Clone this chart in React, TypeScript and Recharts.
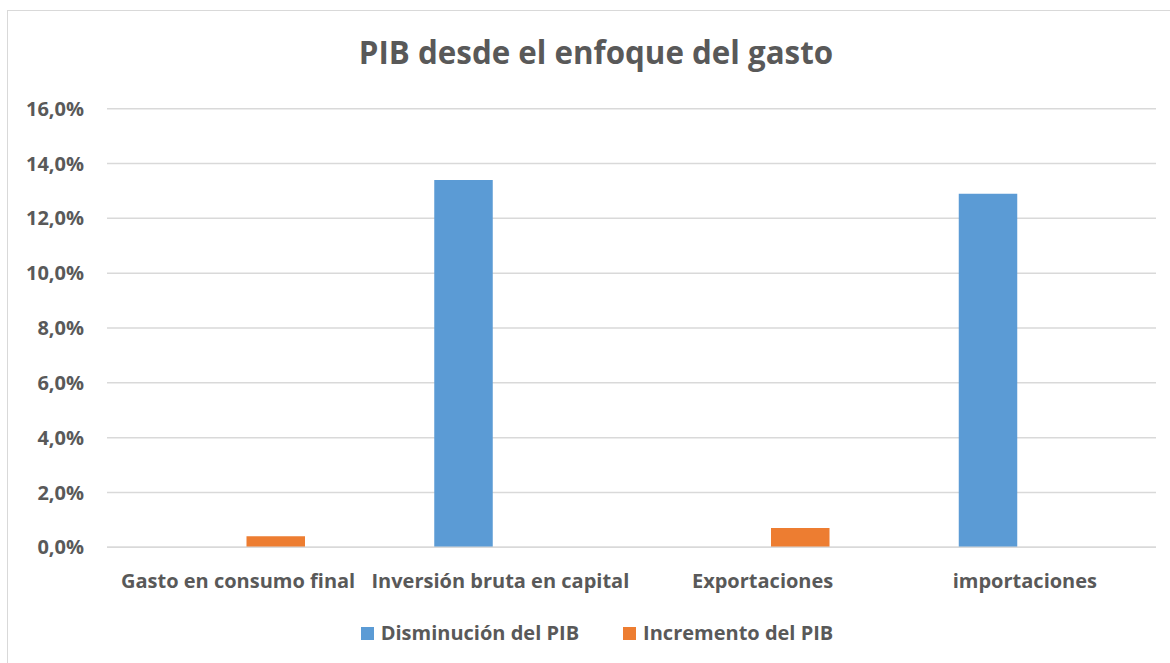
import React from 'react';
import { BarChart, Bar, XAxis, YAxis, CartesianGrid, Legend } from 'recharts';

const categories = ['Gasto en consumo final', 'Inversión bruta en capital', 'Exportaciones', 'importaciones'];
const disminucion = [null, 13.4, null, 12.9];
const incremento = [0.4, null, 0.7, null];
const yTicks = [0, 2, 4, 6, 8, 10, 12, 14, 16];
const seriesNames = ['Disminución del PIB', 'Incremento del PIB'];

const data = categories.map((c, i) => ({ name: c, dis: disminucion[i], inc: incremento[i] }));

const FONT = '"Open Sans", Lato, sans-serif';
const TEXT = '#595959';
const FS = 20;

const fmt = (v: number) => v.toFixed(1).replace('.', ',') + '%';

const renderLegend = () => (
  <div style={{ height: 24, lineHeight: '24px', display: 'flex', justifyContent: 'center', alignItems: 'center', fontFamily: FONT, fontWeight: 700, fontSize: FS, color: TEXT, whiteSpace: 'nowrap' }}>
    <span style={{ display: 'inline-block', width: 13, height: 13, background: '#5B9BD5', marginRight: 7 }} />
    <span style={{ marginRight: 44 }}>{seriesNames[0]}</span>
    <span style={{ display: 'inline-block', width: 13, height: 13, background: '#ED7D31', marginRight: 7 }} />
    <span>{seriesNames[1]}</span>
  </div>
);

export default function App() {
  return (
    <div style={{ position: 'absolute', left: 0, top: 0, width: 1170, height: 663, overflow: 'hidden', background: '#fff' }}>
      <div style={{ position: 'absolute', left: 7, top: 10, width: 1200, height: 700, border: '1.5px solid #d9d9d9', boxSizing: 'border-box' }} />
      <div style={{ position: 'absolute', left: 0, width: 1192, top: 31, lineHeight: '42px', textAlign: 'center', fontFamily: FONT, fontWeight: 700, fontSize: 31.3, color: TEXT }}>
        PIB desde el enfoque del gasto
      </div>
      <div style={{ position: 'absolute', left: 0, top: 0 }}>
        <BarChart width={1170} height={663} data={data} margin={{ top: 108.7, right: 14, bottom: 61.7, left: 27 }} barGap={16} barSize={58.5}>
          <CartesianGrid vertical={false} stroke="#d9d9d9" strokeWidth={1.5} />
          <XAxis dataKey="name" axisLine={{ stroke: '#d9d9d9', strokeWidth: 1.5 }} tickLine={false} interval={0} height={30}
            tick={{ fill: TEXT, fontFamily: FONT, fontWeight: 700, fontSize: FS }} tickMargin={20} />
          <YAxis domain={[0, 16]} ticks={yTicks} tickFormatter={fmt} axisLine={false} tickLine={false} width={80}
            tick={{ fill: TEXT, fontFamily: FONT, fontWeight: 700, fontSize: FS }} tickMargin={17} />
          <Legend content={renderLegend} wrapperStyle={{ position: 'absolute', top: 621, left: 12, width: 1170 }} />
          <Bar dataKey="dis" name={seriesNames[0]} fill="#5B9BD5" isAnimationActive={false} />
          <Bar dataKey="inc" name={seriesNames[1]} fill="#ED7D31" isAnimationActive={false} />
        </BarChart>
      </div>
    </div>
  );
}
